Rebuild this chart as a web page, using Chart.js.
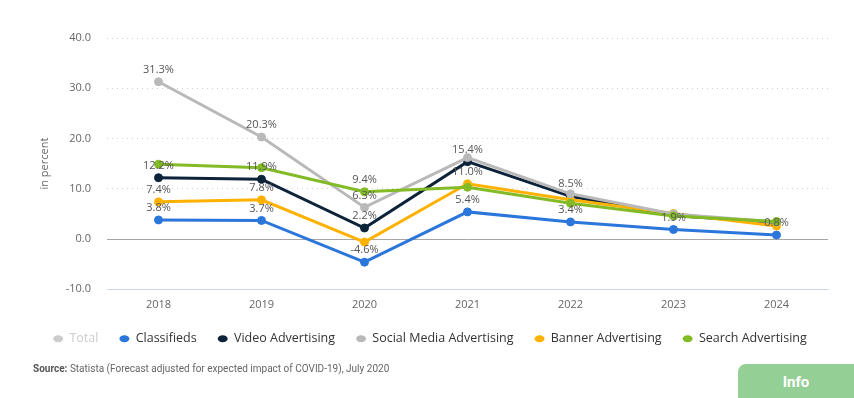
<!DOCTYPE html>
<html lang="en">
<head>
  <meta charset="UTF-8" />
  <title>Advertising growth</title>
  <style>
    body {
      margin: 0;
      background: #ffffff;
      font-family: 'Open Sans', sans-serif;
    }
    #wrap {
      position: relative;
      width: 854px;
      height: 398px;
      overflow: hidden;
    }
    #chart {
      position: absolute;
      left: 0;
      top: 0;
    }
    .source {
      position: absolute;
      left: 33px;
      top: 363px;
      font-family: 'Liberation Sans Narrow', 'Roboto', sans-serif;
      font-size: 10px;
      color: #666666;
      white-space: nowrap;
    }
    .source b {
      color: #555555;
    }
    .info {
      position: absolute;
      left: 738px;
      top: 364px;
      width: 116px;
      height: 34px;
      background: #94cf96;
      border-top-left-radius: 8px;
      color: #ffffff;
      font-weight: bold;
      font-size: 15px;
      line-height: 36px;
      text-align: center;
      font-family: 'Liberation Sans Narrow', 'Roboto', sans-serif;
    }
  </style>
</head>
<body>
  <div id="wrap">
    <canvas id="chart" width="854" height="398"></canvas>
    <div class="source"><b>Source:</b> Statista (Forecast adjusted for expected impact of COVID-19), July 2020</div>
    <div class="info">Info</div>
  </div>
  <script src="https://cdn.jsdelivr.net/npm/chart.js"></script>
  <script>
    // categories and series (annual change, in percent)
    const years = ['2018', '2019', '2020', '2021', '2022', '2023', '2024'];
    const total = [];
    const classifieds = [3.8, 3.7, -4.6, 5.4, 3.4, 1.9, 0.8];
    const videoAdvertising = [12.2, 11.9, 2.2, 15.4, 8.5, 4.7, 3.3];
    const socialMediaAdvertising = [31.3, 20.3, 6.3, 16.2, 9.0, 5.0, 3.4];
    const bannerAdvertising = [7.4, 7.8, -0.6, 11.0, 7.8, 5.1, 2.6];
    const searchAdvertising = [14.9, 14.2, 9.4, 10.3, 7.1, 4.6, 3.5];
    const yTicks = [-10, 0, 10, 20, 30, 40];

    // which points carry a value label
    const classifiedsLabelYears = ['2018', '2019', '2020', '2021', '2022', '2023', '2024'];
    const videoLabelYears = ['2018', '2019', '2020', '2021', '2022'];
    const socialLabelYears = ['2018', '2019', '2020'];
    const bannerLabelYears = ['2018', '2019', '2021'];
    const searchLabelYears = ['2020'];

    Chart.defaults.font.family = "'Open Sans', sans-serif";
    Chart.defaults.color = '#666666';

    function series(label, data, color, order, labelYears) {
      return {
        label: label,
        data: data,
        borderColor: color,
        backgroundColor: color,
        pointBackgroundColor: color,
        pointBorderColor: color,
        borderWidth: 3,
        pointRadius: 4,
        pointBorderWidth: 1,
        pointHoverRadius: 5,
        tension: 0,
        order: order,
        labelYears: labelYears
      };
    }

    const totalSet = series('Total', total, '#cccccc', 9, []);
    totalSet.hidden = true;

    const datasets = [
      totalSet,
      series('Classifieds', classifieds, '#2b76da', 4, classifiedsLabelYears),
      series('Video Advertising', videoAdvertising, '#0d233a', 3, videoLabelYears),
      series('Social Media Advertising', socialMediaAdvertising, '#b9b9b9', 1, socialLabelYears),
      series('Banner Advertising', bannerAdvertising, '#ffb100', 2, bannerLabelYears),
      series('Search Advertising', searchAdvertising, '#82bb26', 0, searchLabelYears)
    ];

    const valueLabels = {
      id: 'valueLabels',
      afterDatasetsDraw(chart) {
        const ctx = chart.ctx;
        ctx.save();
        ctx.font = "11px 'Open Sans', sans-serif";
        ctx.fillStyle = '#555555';
        ctx.textAlign = 'center';
        ctx.textBaseline = 'middle';
        chart.data.datasets.forEach((ds, i) => {
          const meta = chart.getDatasetMeta(i);
          if (meta.hidden || ds.hidden) return;
          ds.data.forEach((v, j) => {
            if (!ds.labelYears.includes(years[j])) return;
            const pt = meta.data[j];
            ctx.fillText(v.toFixed(1) + '%', pt.x, pt.y - 12);
          });
        });
        ctx.restore();
      }
    };

    // nudge the legend up and to the centre of the page
    const legendShift = {
      id: 'legendShift',
      afterLayout(chart) {
        const lg = chart.legend;
        lg.top -= 9; lg.bottom -= 9;
        lg.left += 16; lg.right += 16;
      }
    };

    new Chart(document.getElementById('chart'), {
      type: 'line',
      data: { labels: years, datasets: datasets },
      plugins: [valueLabels, legendShift],
      options: {
        responsive: false,
        animation: false,
        events: [],
        layout: { padding: { top: 38, right: 26, bottom: 34, left: 0 } },
        plugins: {
          tooltip: { enabled: false },
          legend: {
            position: 'bottom',
            onClick: null,
            labels: {
              usePointStyle: true,
              pointStyleWidth: 10,
              boxHeight: 5,
              padding: 21,
              color: '#333333',
              font: { size: 12.5 },
              generateLabels: chart => chart.data.datasets.map((ds, i) => ({
                text: ds.label,
                fillStyle: ds.hidden ? '#cccccc' : ds.borderColor,
                strokeStyle: ds.hidden ? '#cccccc' : ds.borderColor,
                fontColor: ds.hidden ? '#cccccc' : '#333333',
                lineWidth: 0,
                pointStyle: 'circle',
                hidden: false,
                datasetIndex: i
              }))
            }
          }
        },
        scales: {
          x: {
            offset: true,
            grid: { display: false, drawTicks: false },
            border: { display: true, color: '#ccd6eb' },
            ticks: { padding: 9, color: '#666666', font: { size: 11 } }
          },
          y: {
            min: -10,
            max: 40,
            afterBuildTicks: scale => {
              scale.ticks = yTicks.map(v => ({ value: v }));
            },
            afterFit: scale => { scale.width = 107; },
            grid: {
              drawTicks: false,
              lineWidth: 1,
              color: c => {
                const v = c.tick ? c.tick.value : null;
                if (v === 0) return '#a6a6a6';
                if (v === -10) return '#ccd6eb';
                return '#cfcfcf';
              }
            },
            border: {
              display: false,
              dash: c => (c.tick && c.tick.value > 0 ? [1, 4] : [])
            },
            ticks: {
              padding: 16,
              color: '#666666',
              font: { size: 11 },
              callback: v => v.toFixed(1)
            },
            title: {
              display: true,
              text: 'in percent',
              color: '#666666',
              font: { size: 11 },
              padding: { top: 38, bottom: 0 }
            }
          }
        }
      }
    });
  </script>
</body>
</html>
